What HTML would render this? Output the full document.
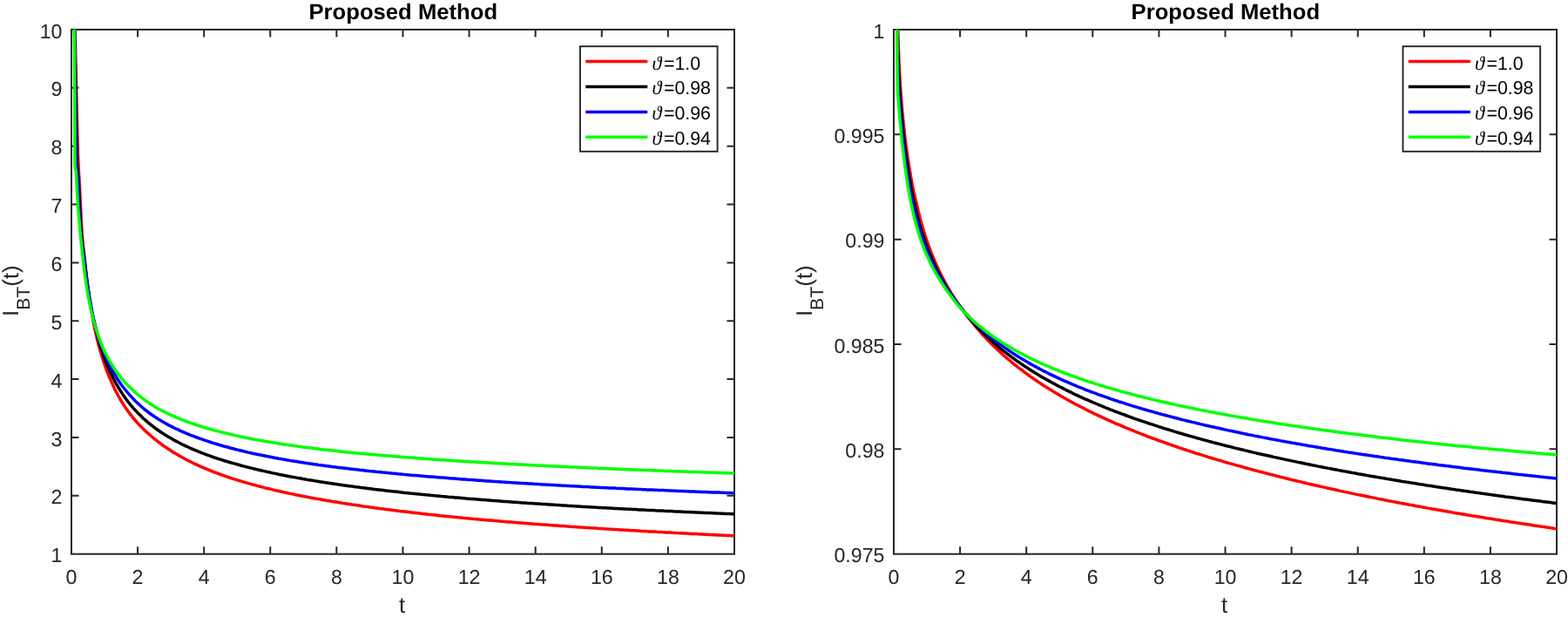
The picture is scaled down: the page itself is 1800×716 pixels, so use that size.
<!DOCTYPE html>
<html lang="en"><head><meta charset="utf-8"><title>Proposed Method</title>
<style>html,body{margin:0;padding:0;background:#fff;overflow:hidden}svg{display:block}</style></head>
<body>
<svg width="1800" height="716" viewBox="0 0 1800 716" font-family="'Liberation Sans',Arial,Helvetica,sans-serif" text-rendering="geometricPrecision">
<rect width="1800" height="716" fill="#fff"/>
<clipPath id="cl"><rect x="81.95" y="33.65" width="761.35" height="602.05"/></clipPath>
<path d="M158.06 635.7v-8.5M158.06 33.95v8.5M234.16 635.7v-8.5M234.16 33.95v8.5M310.26 635.7v-8.5M310.26 33.95v8.5M386.37 635.7v-8.5M386.37 33.95v8.5M462.47 635.7v-8.5M462.47 33.95v8.5M538.58 635.7v-8.5M538.58 33.95v8.5M614.68 635.7v-8.5M614.68 33.95v8.5M690.79 635.7v-8.5M690.79 33.95v8.5M766.89 635.7v-8.5M766.89 33.95v8.5M81.95 568.84h8.5M843 568.84h-8.5M81.95 501.98h8.5M843 501.98h-8.5M81.95 435.12h8.5M843 435.12h-8.5M81.95 368.26h8.5M843 368.26h-8.5M81.95 301.39h8.5M843 301.39h-8.5M81.95 234.53h8.5M843 234.53h-8.5M81.95 167.67h8.5M843 167.67h-8.5M81.95 100.81h8.5M843 100.81h-8.5" stroke="#262626" stroke-width="2.0" fill="none"/>
<rect x="81.95" y="33.95" width="761.05" height="601.75" fill="none" stroke="#262626" stroke-width="2.0"/>
<g clip-path="url(#cl)" fill="none" stroke-width="3.5" stroke-linejoin="round" stroke-linecap="butt">
<path d="M86.0 30.0 L86.1 32.6 L86.1 35.2 L86.2 37.9 L86.2 40.5 L86.3 43.1 L86.3 45.7 L86.4 48.4 L86.4 51.0 L86.5 53.6 L86.5 56.2 L86.6 58.8 L86.7 61.5 L86.7 64.1 L86.8 66.7 L86.8 69.3 L86.9 71.9 L87.0 74.6 L87.0 77.2 L87.1 79.8 L87.1 82.4 L87.2 85.1 L87.2 87.7 L87.3 90.3 L87.4 92.9 L87.4 95.5 L87.5 98.2 L87.5 100.8 L87.6 103.4 L87.7 106.0 L87.7 108.6 L87.8 111.3 L87.9 113.9 L87.9 116.5 L88.0 119.1 L88.0 121.8 L88.1 124.4 L88.2 127.0 L88.2 129.6 L88.3 132.2 L88.4 134.9 L88.4 137.5 L88.5 140.1 L88.5 142.7 L88.6 145.3 L88.7 148.0 L88.7 150.6 L88.8 153.2 L88.9 155.8 L89.0 158.5 L89.0 161.1 L89.1 163.7 L89.2 166.3 L89.3 168.9 L89.3 171.6 L89.4 174.2 L89.5 176.8 L89.6 179.4 L89.7 182.0 L89.8 184.7 L89.9 187.3 L90.0 189.9 L90.1 192.5 L90.3 195.1 L90.4 197.8 L90.6 200.4 L90.8 203.0 L90.9 205.6 L91.1 208.2 L91.2 210.8 L91.4 213.5 L91.5 216.1 L91.6 218.7 L91.8 221.3 L91.9 223.9 L92.0 226.6 L92.2 229.2 L92.3 231.8 L92.4 234.4 L92.5 237.0 L92.6 239.7 L92.8 242.3 L92.9 244.9 L93.0 247.5 L93.1 250.1 L93.3 252.8 L93.4 255.4 L93.5 258.0 L93.7 260.6 L93.9 263.2 L94.0 265.8 L94.2 268.5 L94.4 271.1 L94.6 273.7 L94.8 276.3 L95.1 278.9 L95.3 281.5 L95.6 284.1 L95.9 286.7 L96.2 289.3 L96.5 291.9 L96.8 294.5 L97.1 297.2 L97.4 299.8 L97.6 302.4 L97.9 305.0 L98.2 307.6 L98.5 310.2 L98.8 312.8 L99.0 315.4 L99.3 318.0 L99.7 320.6 L100.0 323.2 L100.3 325.8 L100.6 328.4 L101.0 331.0 L101.3 333.6 L101.7 336.2 L102.1 338.8 L102.4 341.4 L102.8 344.0 L103.2 346.6 L103.6 349.2 L104.0 351.8 L104.5 354.4 L104.9 356.9 L105.4 359.5 L105.8 362.1 L106.3 364.7 L106.8 367.3 L107.3 369.8 L107.8 372.4 L108.3 375.0 L108.9 377.5 L109.4 380.1 L110.0 382.7 L110.6 385.2 L111.2 387.8 L111.8 390.3 L112.5 392.9 L113.1 395.4 L113.8 397.9 L114.5 400.5 L115.2 403.0 L116.0 405.5 L116.7 408.0 L117.5 410.5 L118.3 413.0 L119.1 415.5 L120.0 418.0 L120.8 420.5 L121.7 422.9 L122.6 425.4 L123.6 427.8 L124.5 430.3 L125.5 432.7 L126.6 435.1 L127.6 437.5 L128.7 439.9 L129.8 442.3 L130.9 444.7 L132.0 447.0 L133.2 449.4 L134.4 451.7 L135.7 454.0 L137.0 456.3 L138.3 458.6 L139.6 460.8 L141.0 463.0 L142.4 465.2 L143.8 467.4 L145.3 469.6 L146.9 471.7 L148.4 473.8 L150.0 475.9 L151.6 478.0 L153.3 480.0 L155.0 482.0 L156.7 484.0 L158.5 485.9 L160.2 487.9 L162.1 489.7 L163.9 491.6 L165.8 493.4 L167.7 495.2 L169.6 497.0 L171.6 498.7 L173.6 500.5 L175.6 502.1 L177.6 503.8 L179.7 505.4 L181.7 507.0 L183.8 508.6 L185.9 510.2 L188.1 511.7 L190.2 513.2 L192.4 514.7 L194.6 516.1 L196.8 517.5 L199.0 518.9 L201.3 520.3 L203.5 521.6 L205.8 522.9 L208.1 524.2 L210.4 525.5 L212.7 526.7 L215.0 528.0 L217.3 529.2 L219.7 530.3 L222.0 531.5 L224.4 532.6 L226.8 533.7 L229.2 534.8 L231.6 535.9 L234.0 536.9 L236.4 537.9 L238.8 538.9 L241.2 539.9 L243.7 540.9 L246.1 541.8 L248.6 542.7 L251.0 543.6 L253.5 544.5 L256.0 545.4 L258.4 546.3 L260.9 547.1 L263.4 548.0 L265.9 548.8 L268.4 549.6 L270.9 550.4 L273.4 551.2 L275.9 551.9 L278.4 552.7 L280.9 553.4 L283.5 554.1 L286.0 554.9 L288.5 555.6 L291.0 556.3 L293.6 556.9 L296.1 557.6 L298.6 558.3 L301.2 558.9 L303.7 559.6 L306.3 560.2 L308.8 560.8 L311.4 561.4 L313.9 562.1 L316.5 562.7 L319.0 563.2 L321.6 563.8 L324.1 564.4 L326.7 565.0 L329.3 565.5 L331.8 566.1 L334.4 566.6 L337.0 567.1 L339.5 567.7 L342.1 568.2 L344.7 568.7 L347.2 569.2 L349.8 569.7 L352.4 570.2 L355.0 570.7 L357.5 571.2 L360.1 571.7 L362.7 572.1 L365.3 572.6 L367.9 573.0 L370.5 573.5 L373.0 573.9 L375.6 574.4 L378.2 574.8 L380.8 575.3 L383.4 575.7 L386.0 576.1 L388.6 576.5 L391.1 576.9 L393.7 577.4 L396.3 577.8 L398.9 578.2 L401.5 578.6 L404.1 579.0 L406.7 579.3 L409.3 579.7 L411.9 580.1 L414.5 580.5 L417.1 580.9 L419.7 581.2 L422.3 581.6 L424.9 582.0 L427.5 582.3 L430.1 582.7 L432.7 583.0 L435.3 583.4 L437.9 583.7 L440.5 584.1 L443.1 584.4 L445.7 584.7 L448.3 585.1 L450.9 585.4 L453.5 585.7 L456.1 586.0 L458.7 586.4 L461.3 586.7 L463.9 587.0 L466.5 587.3 L469.1 587.6 L471.7 587.9 L474.3 588.2 L476.9 588.5 L479.5 588.8 L482.1 589.1 L484.7 589.4 L487.3 589.7 L489.9 590.0 L492.5 590.3 L495.1 590.5 L497.7 590.8 L500.4 591.1 L503.0 591.4 L505.6 591.7 L508.2 591.9 L510.8 592.2 L513.4 592.5 L516.0 592.7 L518.6 593.0 L521.2 593.2 L523.8 593.5 L526.4 593.8 L529.0 594.0 L531.7 594.3 L534.3 594.5 L536.9 594.7 L539.5 595.0 L542.1 595.2 L544.7 595.5 L547.3 595.7 L549.9 596.0 L552.5 596.2 L555.2 596.4 L557.8 596.7 L560.4 596.9 L563.0 597.1 L565.6 597.3 L568.2 597.6 L570.8 597.8 L573.4 598.0 L576.1 598.2 L578.7 598.5 L581.3 598.7 L583.9 598.9 L586.5 599.1 L589.1 599.3 L591.7 599.5 L594.4 599.7 L597.0 599.9 L599.6 600.1 L602.2 600.4 L604.8 600.6 L607.4 600.8 L610.0 601.0 L612.7 601.2 L615.3 601.4 L617.9 601.6 L620.5 601.8 L623.1 601.9 L625.7 602.1 L628.3 602.3 L631.0 602.5 L633.6 602.7 L636.2 602.9 L638.8 603.1 L641.4 603.3 L644.0 603.5 L646.7 603.6 L649.3 603.8 L651.9 604.0 L654.5 604.2 L657.1 604.4 L659.7 604.5 L662.3 604.7 L665.0 604.9 L667.6 605.1 L670.2 605.2 L672.8 605.4 L675.4 605.6 L678.0 605.8 L680.7 605.9 L683.3 606.1 L685.9 606.3 L688.5 606.4 L691.1 606.6 L693.7 606.8 L696.4 606.9 L699.0 607.1 L701.6 607.2 L704.2 607.4 L706.8 607.6 L709.5 607.7 L712.1 607.9 L714.7 608.0 L717.3 608.2 L719.9 608.3 L722.5 608.5 L725.2 608.7 L727.8 608.8 L730.4 609.0 L733.0 609.1 L735.6 609.3 L738.2 609.4 L740.9 609.6 L743.5 609.7 L746.1 609.9 L748.7 610.0 L751.3 610.1 L754.0 610.3 L756.6 610.4 L759.2 610.6 L761.8 610.7 L764.4 610.9 L767.0 611.0 L769.7 611.1 L772.3 611.3 L774.9 611.4 L777.5 611.6 L780.1 611.7 L782.8 611.8 L785.4 612.0 L788.0 612.1 L790.6 612.2 L793.2 612.4 L795.9 612.5 L798.5 612.6 L801.1 612.8 L803.7 612.9 L806.3 613.0 L808.9 613.2 L811.6 613.3 L814.2 613.4 L816.8 613.5 L819.4 613.7 L822.0 613.8 L824.7 613.9 L827.3 614.0 L829.9 614.2 L832.5 614.3 L835.1 614.4 L837.8 614.5 L840.4 614.7 L843.0 614.8" stroke="#ff0000"/>
<path d="M85.7 30.0 L85.7 32.6 L85.8 35.2 L85.8 37.8 L85.9 40.4 L85.9 42.9 L86.0 45.5 L86.0 48.1 L86.0 50.7 L86.1 53.3 L86.1 55.9 L86.2 58.5 L86.2 61.1 L86.2 63.7 L86.3 66.2 L86.3 68.8 L86.4 71.4 L86.4 74.0 L86.5 76.6 L86.5 79.2 L86.6 81.8 L86.6 84.4 L86.6 87.0 L86.7 89.5 L86.7 92.1 L86.8 94.7 L86.8 97.3 L86.9 99.9 L86.9 102.5 L86.9 105.1 L87.0 107.7 L87.0 110.3 L87.1 112.8 L87.1 115.4 L87.2 118.0 L87.2 120.6 L87.3 123.2 L87.3 125.8 L87.3 128.4 L87.4 131.0 L87.4 133.6 L87.5 136.1 L87.5 138.7 L87.6 141.3 L87.6 143.9 L87.6 146.5 L87.7 149.1 L87.7 151.7 L87.8 154.3 L87.8 156.9 L87.9 159.4 L87.9 162.0 L88.0 164.6 L88.0 167.2 L88.1 169.8 L88.1 172.4 L88.2 175.0 L88.2 177.6 L88.3 180.2 L88.4 182.8 L88.4 185.3 L88.5 187.9 L88.6 190.5 L88.8 193.1 L89.1 195.7 L89.3 198.2 L89.5 200.8 L89.8 203.4 L90.0 206.0 L90.2 208.6 L90.4 211.1 L90.5 213.7 L90.6 216.3 L90.7 218.9 L90.8 221.5 L90.9 224.1 L91.0 226.7 L91.1 229.3 L91.3 231.8 L91.4 234.4 L91.5 237.0 L91.7 239.6 L91.8 242.2 L91.9 244.8 L92.1 247.4 L92.2 250.0 L92.4 252.5 L92.5 255.1 L92.7 257.7 L92.9 260.3 L93.1 262.9 L93.2 265.5 L93.4 268.0 L93.7 270.6 L93.9 273.2 L94.2 275.8 L94.5 278.3 L94.8 280.9 L95.1 283.5 L95.5 286.0 L95.8 288.6 L96.2 291.2 L96.5 293.7 L96.9 296.3 L97.2 298.9 L97.5 301.4 L97.8 304.0 L98.0 306.6 L98.3 309.2 L98.6 311.7 L98.9 314.3 L99.3 316.9 L99.6 319.4 L99.9 322.0 L100.3 324.6 L100.6 327.1 L101.0 329.7 L101.3 332.3 L101.7 334.8 L102.1 337.4 L102.5 340.0 L102.9 342.5 L103.3 345.1 L103.8 347.6 L104.2 350.2 L104.7 352.7 L105.1 355.3 L105.6 357.8 L106.1 360.3 L106.6 362.9 L107.1 365.4 L107.7 368.0 L108.2 370.5 L108.8 373.0 L109.4 375.5 L110.0 378.1 L110.6 380.6 L111.3 383.1 L111.9 385.6 L112.6 388.1 L113.3 390.6 L114.0 393.1 L114.7 395.5 L115.5 398.0 L116.3 400.5 L117.1 402.9 L117.9 405.4 L118.8 407.8 L119.7 410.3 L120.6 412.7 L121.5 415.1 L122.5 417.5 L123.5 419.9 L124.5 422.3 L125.6 424.6 L126.6 427.0 L127.7 429.3 L128.9 431.7 L130.0 434.0 L131.2 436.3 L132.4 438.6 L133.7 440.8 L135.0 443.1 L136.3 445.3 L137.7 447.5 L139.1 449.7 L140.5 451.9 L141.9 454.0 L143.4 456.1 L145.0 458.2 L146.5 460.3 L148.1 462.3 L149.7 464.3 L151.4 466.3 L153.1 468.3 L154.8 470.2 L156.6 472.1 L158.4 474.0 L160.2 475.8 L162.0 477.6 L163.9 479.4 L165.8 481.2 L167.8 482.9 L169.7 484.6 L171.7 486.2 L173.7 487.9 L175.8 489.4 L177.8 491.0 L179.9 492.5 L182.0 494.0 L184.2 495.5 L186.3 496.9 L188.5 498.3 L190.7 499.7 L192.9 501.0 L195.2 502.3 L197.4 503.6 L199.7 504.9 L201.9 506.1 L204.2 507.3 L206.5 508.5 L208.9 509.7 L211.2 510.8 L213.5 511.9 L215.9 513.0 L218.2 514.1 L220.6 515.1 L223.0 516.1 L225.4 517.1 L227.8 518.1 L230.2 519.1 L232.6 520.0 L235.0 521.0 L237.4 521.9 L239.9 522.7 L242.3 523.6 L244.7 524.5 L247.2 525.3 L249.6 526.1 L252.1 526.9 L254.6 527.7 L257.0 528.5 L259.5 529.2 L262.0 530.0 L264.5 530.7 L267.0 531.4 L269.5 532.1 L272.0 532.8 L274.5 533.5 L277.0 534.2 L279.5 534.9 L282.0 535.5 L284.5 536.1 L287.0 536.8 L289.5 537.4 L292.0 538.0 L294.5 538.6 L297.1 539.2 L299.6 539.8 L302.1 540.4 L304.6 540.9 L307.2 541.5 L309.7 542.0 L312.2 542.6 L314.7 543.1 L317.3 543.6 L319.8 544.2 L322.4 544.7 L324.9 545.2 L327.4 545.7 L330.0 546.2 L332.5 546.7 L335.1 547.2 L337.6 547.6 L340.2 548.1 L342.7 548.6 L345.3 549.0 L347.8 549.5 L350.4 549.9 L352.9 550.4 L355.5 550.8 L358.0 551.2 L360.6 551.6 L363.1 552.1 L365.7 552.5 L368.2 552.9 L370.8 553.3 L373.4 553.7 L375.9 554.1 L378.5 554.5 L381.0 554.8 L383.6 555.2 L386.2 555.6 L388.7 556.0 L391.3 556.3 L393.8 556.7 L396.4 557.0 L399.0 557.4 L401.5 557.8 L404.1 558.1 L406.7 558.4 L409.2 558.8 L411.8 559.1 L414.4 559.5 L416.9 559.8 L419.5 560.1 L422.1 560.4 L424.7 560.7 L427.2 561.1 L429.8 561.4 L432.4 561.7 L434.9 562.0 L437.5 562.3 L440.1 562.6 L442.6 562.9 L445.2 563.2 L447.8 563.5 L450.4 563.8 L452.9 564.0 L455.5 564.3 L458.1 564.6 L460.7 564.9 L463.2 565.2 L465.8 565.4 L468.4 565.7 L471.0 566.0 L473.5 566.2 L476.1 566.5 L478.7 566.8 L481.3 567.0 L483.8 567.3 L486.4 567.5 L489.0 567.8 L491.6 568.0 L494.2 568.3 L496.7 568.5 L499.3 568.8 L501.9 569.0 L504.5 569.2 L507.0 569.5 L509.6 569.7 L512.2 569.9 L514.8 570.2 L517.4 570.4 L519.9 570.6 L522.5 570.9 L525.1 571.1 L527.7 571.3 L530.3 571.5 L532.8 571.7 L535.4 572.0 L538.0 572.2 L540.6 572.4 L543.2 572.6 L545.7 572.8 L548.3 573.0 L550.9 573.2 L553.5 573.4 L556.1 573.6 L558.6 573.8 L561.2 574.0 L563.8 574.2 L566.4 574.4 L569.0 574.6 L571.6 574.8 L574.1 575.0 L576.7 575.2 L579.3 575.4 L581.9 575.6 L584.5 575.8 L587.0 576.0 L589.6 576.2 L592.2 576.3 L594.8 576.5 L597.4 576.7 L600.0 576.9 L602.5 577.1 L605.1 577.3 L607.7 577.4 L610.3 577.6 L612.9 577.8 L615.5 578.0 L618.0 578.1 L620.6 578.3 L623.2 578.5 L625.8 578.6 L628.4 578.8 L631.0 579.0 L633.5 579.1 L636.1 579.3 L638.7 579.5 L641.3 579.6 L643.9 579.8 L646.5 580.0 L649.1 580.1 L651.6 580.3 L654.2 580.4 L656.8 580.6 L659.4 580.7 L662.0 580.9 L664.6 581.0 L667.1 581.2 L669.7 581.4 L672.3 581.5 L674.9 581.7 L677.5 581.8 L680.1 581.9 L682.7 582.1 L685.2 582.2 L687.8 582.4 L690.4 582.5 L693.0 582.7 L695.6 582.8 L698.2 583.0 L700.7 583.1 L703.3 583.2 L705.9 583.4 L708.5 583.5 L711.1 583.7 L713.7 583.8 L716.3 583.9 L718.8 584.1 L721.4 584.2 L724.0 584.3 L726.6 584.5 L729.2 584.6 L731.8 584.7 L734.4 584.9 L736.9 585.0 L739.5 585.1 L742.1 585.3 L744.7 585.4 L747.3 585.5 L749.9 585.6 L752.5 585.8 L755.1 585.9 L757.6 586.0 L760.2 586.1 L762.8 586.3 L765.4 586.4 L768.0 586.5 L770.6 586.6 L773.2 586.8 L775.7 586.9 L778.3 587.0 L780.9 587.1 L783.5 587.2 L786.1 587.4 L788.7 587.5 L791.3 587.6 L793.8 587.7 L796.4 587.8 L799.0 587.9 L801.6 588.0 L804.2 588.2 L806.8 588.3 L809.4 588.4 L812.0 588.5 L814.5 588.6 L817.1 588.7 L819.7 588.8 L822.3 588.9 L824.9 589.1 L827.5 589.2 L830.1 589.3 L832.7 589.4 L835.2 589.5 L837.8 589.6 L840.4 589.7 L843.0 589.8" stroke="#000000"/>
<path d="M85.5 30.0 L85.5 32.6 L85.6 35.1 L85.6 37.7 L85.6 40.2 L85.7 42.8 L85.7 45.4 L85.7 47.9 L85.7 50.5 L85.8 53.0 L85.8 55.6 L85.8 58.2 L85.9 60.7 L85.9 63.3 L85.9 65.8 L86.0 68.4 L86.0 70.9 L86.0 73.5 L86.1 76.1 L86.1 78.6 L86.1 81.2 L86.2 83.7 L86.2 86.3 L86.2 88.9 L86.2 91.4 L86.3 94.0 L86.3 96.5 L86.3 99.1 L86.4 101.7 L86.4 104.2 L86.4 106.8 L86.5 109.3 L86.5 111.9 L86.5 114.5 L86.6 117.0 L86.6 119.6 L86.6 122.1 L86.7 124.7 L86.7 127.3 L86.7 129.8 L86.7 132.4 L86.8 134.9 L86.8 137.5 L86.8 140.1 L86.9 142.6 L86.9 145.2 L86.9 147.7 L87.0 150.3 L87.0 152.8 L87.0 155.4 L87.1 158.0 L87.1 160.5 L87.1 163.1 L87.2 165.6 L87.2 168.2 L87.2 170.8 L87.3 173.3 L87.3 175.9 L87.3 178.5 L87.4 181.0 L87.4 183.6 L87.5 186.1 L87.6 188.7 L87.7 191.2 L88.0 193.8 L88.3 196.3 L88.6 198.9 L88.9 201.4 L89.1 204.0 L89.4 206.5 L89.5 209.1 L89.7 211.6 L89.8 214.2 L89.9 216.7 L90.0 219.3 L90.1 221.8 L90.2 224.4 L90.3 227.0 L90.5 229.5 L90.6 232.1 L90.7 234.6 L90.8 237.2 L91.0 239.7 L91.1 242.3 L91.3 244.9 L91.4 247.4 L91.6 250.0 L91.7 252.5 L91.9 255.1 L92.1 257.6 L92.2 260.2 L92.4 262.7 L92.6 265.3 L92.8 267.8 L93.0 270.4 L93.3 272.9 L93.5 275.5 L93.8 278.0 L94.1 280.5 L94.5 283.1 L94.8 285.6 L95.2 288.2 L95.5 290.7 L95.9 293.2 L96.2 295.8 L96.6 298.3 L96.9 300.9 L97.2 303.4 L97.5 305.9 L97.8 308.5 L98.1 311.0 L98.4 313.6 L98.7 316.1 L99.0 318.6 L99.4 321.2 L99.7 323.7 L100.1 326.2 L100.5 328.8 L100.9 331.3 L101.2 333.8 L101.7 336.4 L102.1 338.9 L102.5 341.4 L102.9 343.9 L103.4 346.4 L103.9 349.0 L104.3 351.5 L104.8 354.0 L105.4 356.5 L105.9 359.0 L106.4 361.5 L107.0 364.0 L107.6 366.5 L108.2 369.0 L108.8 371.5 L109.4 373.9 L110.1 376.4 L110.7 378.9 L111.4 381.4 L112.1 383.8 L112.9 386.3 L113.6 388.7 L114.4 391.1 L115.2 393.6 L116.1 396.0 L116.9 398.4 L117.8 400.8 L118.8 403.2 L119.7 405.6 L120.7 407.9 L121.7 410.3 L122.7 412.6 L123.8 414.9 L124.9 417.2 L126.1 419.5 L127.2 421.8 L128.4 424.1 L129.7 426.3 L131.0 428.5 L132.3 430.7 L133.6 432.9 L135.0 435.1 L136.4 437.2 L137.8 439.3 L139.3 441.4 L140.8 443.5 L142.4 445.5 L144.0 447.5 L145.6 449.5 L147.3 451.4 L149.0 453.3 L150.7 455.2 L152.4 457.1 L154.2 458.9 L156.0 460.7 L157.9 462.5 L159.8 464.3 L161.7 466.0 L163.6 467.7 L165.6 469.3 L167.5 470.9 L169.6 472.5 L171.6 474.0 L173.7 475.5 L175.8 477.0 L177.9 478.4 L180.0 479.8 L182.2 481.2 L184.4 482.5 L186.6 483.8 L188.8 485.1 L191.0 486.4 L193.3 487.6 L195.6 488.8 L197.8 489.9 L200.1 491.0 L202.4 492.2 L204.8 493.2 L207.1 494.3 L209.4 495.3 L211.8 496.3 L214.1 497.3 L216.5 498.3 L218.9 499.3 L221.3 500.2 L223.7 501.1 L226.1 502.0 L228.5 502.9 L230.9 503.7 L233.3 504.6 L235.7 505.4 L238.1 506.2 L240.6 507.0 L243.0 507.8 L245.5 508.6 L247.9 509.3 L250.4 510.0 L252.8 510.8 L255.3 511.5 L257.7 512.2 L260.2 512.8 L262.7 513.5 L265.1 514.2 L267.6 514.8 L270.1 515.5 L272.6 516.1 L275.1 516.7 L277.6 517.3 L280.0 517.9 L282.5 518.5 L285.0 519.1 L287.5 519.6 L290.0 520.2 L292.5 520.7 L295.0 521.3 L297.5 521.8 L300.0 522.3 L302.5 522.8 L305.1 523.3 L307.6 523.8 L310.1 524.3 L312.6 524.8 L315.1 525.3 L317.6 525.7 L320.1 526.2 L322.7 526.6 L325.2 527.1 L327.7 527.5 L330.2 527.9 L332.8 528.4 L335.3 528.8 L337.8 529.2 L340.3 529.6 L342.9 530.0 L345.4 530.4 L347.9 530.8 L350.4 531.2 L353.0 531.5 L355.5 531.9 L358.0 532.3 L360.6 532.7 L363.1 533.0 L365.6 533.4 L368.2 533.7 L370.7 534.1 L373.3 534.4 L375.8 534.7 L378.3 535.1 L380.9 535.4 L383.4 535.7 L385.9 536.1 L388.5 536.4 L391.0 536.7 L393.6 537.0 L396.1 537.3 L398.7 537.6 L401.2 537.9 L403.7 538.2 L406.3 538.5 L408.8 538.8 L411.4 539.1 L413.9 539.4 L416.5 539.6 L419.0 539.9 L421.5 540.2 L424.1 540.5 L426.6 540.7 L429.2 541.0 L431.7 541.3 L434.3 541.5 L436.8 541.8 L439.4 542.1 L441.9 542.3 L444.5 542.6 L447.0 542.8 L449.5 543.1 L452.1 543.3 L454.6 543.5 L457.2 543.8 L459.7 544.0 L462.3 544.3 L464.8 544.5 L467.4 544.7 L469.9 545.0 L472.5 545.2 L475.0 545.4 L477.6 545.6 L480.1 545.8 L482.7 546.1 L485.2 546.3 L487.8 546.5 L490.3 546.7 L492.9 546.9 L495.4 547.1 L498.0 547.3 L500.5 547.5 L503.1 547.7 L505.6 547.9 L508.2 548.1 L510.7 548.3 L513.3 548.5 L515.9 548.7 L518.4 548.9 L521.0 549.1 L523.5 549.3 L526.1 549.5 L528.6 549.7 L531.2 549.9 L533.7 550.1 L536.3 550.3 L538.8 550.4 L541.4 550.6 L543.9 550.8 L546.5 551.0 L549.0 551.2 L551.6 551.3 L554.1 551.5 L556.7 551.7 L559.2 551.9 L561.8 552.0 L564.4 552.2 L566.9 552.4 L569.5 552.6 L572.0 552.7 L574.6 552.9 L577.1 553.1 L579.7 553.2 L582.2 553.4 L584.8 553.6 L587.3 553.7 L589.9 553.9 L592.5 554.0 L595.0 554.2 L597.6 554.4 L600.1 554.5 L602.7 554.7 L605.2 554.8 L607.8 555.0 L610.3 555.1 L612.9 555.3 L615.4 555.4 L618.0 555.6 L620.6 555.7 L623.1 555.9 L625.7 556.0 L628.2 556.2 L630.8 556.3 L633.3 556.5 L635.9 556.6 L638.4 556.7 L641.0 556.9 L643.6 557.0 L646.1 557.2 L648.7 557.3 L651.2 557.4 L653.8 557.6 L656.3 557.7 L658.9 557.8 L661.4 558.0 L664.0 558.1 L666.6 558.2 L669.1 558.4 L671.7 558.5 L674.2 558.6 L676.8 558.8 L679.3 558.9 L681.9 559.0 L684.5 559.2 L687.0 559.3 L689.6 559.4 L692.1 559.5 L694.7 559.7 L697.2 559.8 L699.8 559.9 L702.3 560.0 L704.9 560.1 L707.5 560.3 L710.0 560.4 L712.6 560.5 L715.1 560.6 L717.7 560.7 L720.2 560.9 L722.8 561.0 L725.4 561.1 L727.9 561.2 L730.5 561.3 L733.0 561.4 L735.6 561.5 L738.1 561.7 L740.7 561.8 L743.3 561.9 L745.8 562.0 L748.4 562.1 L750.9 562.2 L753.5 562.3 L756.0 562.4 L758.6 562.5 L761.2 562.6 L763.7 562.7 L766.3 562.8 L768.8 563.0 L771.4 563.1 L773.9 563.2 L776.5 563.3 L779.1 563.4 L781.6 563.5 L784.2 563.6 L786.7 563.7 L789.3 563.8 L791.8 563.9 L794.4 564.0 L797.0 564.1 L799.5 564.2 L802.1 564.3 L804.6 564.4 L807.2 564.5 L809.7 564.6 L812.3 564.7 L814.9 564.8 L817.4 564.9 L820.0 565.0 L822.5 565.0 L825.1 565.1 L827.7 565.2 L830.2 565.3 L832.8 565.4 L835.3 565.5 L837.9 565.6 L840.4 565.7 L843.0 565.8" stroke="#0000ff"/>
<path d="M85.4 30.0 L85.4 32.5 L85.4 35.1 L85.4 37.6 L85.5 40.1 L85.5 42.7 L85.5 45.2 L85.5 47.7 L85.5 50.3 L85.5 52.8 L85.5 55.3 L85.5 57.9 L85.6 60.4 L85.6 62.9 L85.6 65.5 L85.6 68.0 L85.6 70.5 L85.6 73.1 L85.6 75.6 L85.6 78.1 L85.7 80.7 L85.7 83.2 L85.7 85.7 L85.7 88.3 L85.7 90.8 L85.7 93.3 L85.7 95.9 L85.7 98.4 L85.7 100.9 L85.7 103.5 L85.8 106.0 L85.8 108.5 L85.8 111.1 L85.8 113.6 L85.8 116.1 L85.8 118.7 L85.8 121.2 L85.8 123.7 L85.8 126.3 L85.8 128.8 L85.8 131.3 L85.8 133.9 L85.8 136.4 L85.8 138.9 L85.9 141.5 L85.9 144.0 L85.9 146.5 L85.9 149.1 L85.9 151.6 L85.9 154.1 L85.9 156.7 L85.9 159.2 L85.9 161.8 L85.9 164.3 L85.9 166.8 L85.9 169.4 L85.9 171.9 L85.9 174.5 L85.9 177.0 L85.9 179.5 L86.0 182.1 L86.0 184.6 L86.0 187.1 L86.0 189.6 L86.3 192.1 L86.9 194.6 L87.3 197.1 L87.5 199.6 L87.6 202.1 L87.8 204.7 L87.9 207.2 L88.0 209.8 L88.1 212.3 L88.2 214.8 L88.4 217.3 L88.5 219.9 L88.6 222.4 L88.8 224.9 L88.9 227.5 L89.1 230.0 L89.3 232.5 L89.5 235.0 L89.6 237.6 L89.8 240.1 L90.0 242.6 L90.2 245.2 L90.4 247.7 L90.6 250.2 L90.9 252.7 L91.1 255.3 L91.3 257.8 L91.5 260.3 L91.7 262.8 L92.0 265.3 L92.2 267.9 L92.4 270.4 L92.7 272.9 L92.9 275.4 L93.2 278.0 L93.4 280.5 L93.7 283.0 L94.0 285.5 L94.2 288.0 L94.5 290.6 L94.8 293.1 L95.1 295.6 L95.3 298.1 L95.6 300.6 L95.9 303.1 L96.2 305.7 L96.5 308.2 L96.8 310.7 L97.1 313.2 L97.5 315.7 L97.8 318.2 L98.2 320.7 L98.5 323.2 L98.9 325.8 L99.3 328.3 L99.7 330.8 L100.1 333.3 L100.5 335.8 L101.0 338.3 L101.4 340.7 L101.9 343.2 L102.4 345.7 L102.9 348.2 L103.4 350.7 L103.9 353.2 L104.4 355.6 L105.0 358.1 L105.6 360.6 L106.2 363.0 L106.8 365.5 L107.5 367.9 L108.1 370.4 L108.8 372.8 L109.5 375.3 L110.3 377.7 L111.1 380.1 L111.8 382.5 L112.7 384.9 L113.5 387.3 L114.4 389.7 L115.3 392.0 L116.2 394.4 L117.2 396.7 L118.2 399.0 L119.3 401.4 L120.3 403.7 L121.4 405.9 L122.6 408.2 L123.8 410.4 L125.0 412.7 L126.2 414.9 L127.5 417.0 L128.9 419.2 L130.2 421.3 L131.6 423.4 L133.0 425.5 L134.5 427.6 L136.0 429.6 L137.6 431.6 L139.2 433.6 L140.8 435.6 L142.4 437.5 L144.1 439.4 L145.9 441.2 L147.6 443.0 L149.4 444.8 L151.2 446.6 L153.1 448.3 L155.0 450.0 L156.9 451.7 L158.8 453.3 L160.8 454.9 L162.8 456.5 L164.8 458.0 L166.8 459.5 L168.9 461.0 L171.0 462.4 L173.1 463.8 L175.3 465.1 L177.4 466.4 L179.6 467.7 L181.8 469.0 L184.0 470.2 L186.3 471.4 L188.5 472.5 L190.8 473.7 L193.1 474.8 L195.4 475.8 L197.7 476.9 L200.0 477.9 L202.3 478.9 L204.7 479.9 L207.0 480.9 L209.4 481.8 L211.7 482.7 L214.1 483.6 L216.5 484.5 L218.9 485.3 L221.3 486.2 L223.7 487.0 L226.1 487.8 L228.5 488.5 L230.9 489.3 L233.3 490.1 L235.7 490.8 L238.2 491.5 L240.6 492.2 L243.0 492.9 L245.5 493.6 L247.9 494.2 L250.4 494.9 L252.8 495.5 L255.3 496.1 L257.7 496.7 L260.2 497.3 L262.7 497.9 L265.1 498.5 L267.6 499.0 L270.1 499.6 L272.6 500.1 L275.0 500.7 L277.5 501.2 L280.0 501.7 L282.5 502.2 L285.0 502.7 L287.5 503.2 L289.9 503.7 L292.4 504.2 L294.9 504.6 L297.4 505.1 L299.9 505.5 L302.4 506.0 L304.9 506.4 L307.4 506.8 L309.9 507.3 L312.4 507.7 L314.9 508.1 L317.4 508.5 L319.9 508.9 L322.4 509.3 L324.9 509.7 L327.4 510.0 L329.9 510.4 L332.4 510.8 L334.9 511.1 L337.4 511.5 L339.9 511.8 L342.5 512.2 L345.0 512.5 L347.5 512.9 L350.0 513.2 L352.5 513.5 L355.0 513.8 L357.5 514.1 L360.0 514.5 L362.6 514.8 L365.1 515.1 L367.6 515.4 L370.1 515.7 L372.6 515.9 L375.1 516.2 L377.7 516.5 L380.2 516.8 L382.7 517.1 L385.2 517.3 L387.7 517.6 L390.3 517.9 L392.8 518.2 L395.3 518.4 L397.8 518.7 L400.3 518.9 L402.9 519.2 L405.4 519.4 L407.9 519.7 L410.4 519.9 L412.9 520.2 L415.5 520.4 L418.0 520.6 L420.5 520.9 L423.0 521.1 L425.6 521.3 L428.1 521.6 L430.6 521.8 L433.1 522.0 L435.7 522.2 L438.2 522.5 L440.7 522.7 L443.2 522.9 L445.8 523.1 L448.3 523.3 L450.8 523.5 L453.3 523.7 L455.9 523.9 L458.4 524.1 L460.9 524.4 L463.4 524.5 L466.0 524.7 L468.5 524.9 L471.0 525.1 L473.5 525.3 L476.1 525.5 L478.6 525.7 L481.1 525.9 L483.6 526.1 L486.2 526.3 L488.7 526.4 L491.2 526.6 L493.7 526.8 L496.3 527.0 L498.8 527.2 L501.3 527.3 L503.9 527.5 L506.4 527.7 L508.9 527.8 L511.4 528.0 L514.0 528.2 L516.5 528.3 L519.0 528.5 L521.6 528.7 L524.1 528.8 L526.6 529.0 L529.1 529.2 L531.7 529.3 L534.2 529.5 L536.7 529.6 L539.3 529.8 L541.8 529.9 L544.3 530.1 L546.8 530.2 L549.4 530.4 L551.9 530.5 L554.4 530.7 L557.0 530.8 L559.5 531.0 L562.0 531.1 L564.6 531.3 L567.1 531.4 L569.6 531.5 L572.1 531.7 L574.7 531.8 L577.2 532.0 L579.7 532.1 L582.3 532.2 L584.8 532.4 L587.3 532.5 L589.9 532.6 L592.4 532.8 L594.9 532.9 L597.4 533.0 L600.0 533.2 L602.5 533.3 L605.0 533.4 L607.6 533.5 L610.1 533.7 L612.6 533.8 L615.2 533.9 L617.7 534.0 L620.2 534.2 L622.7 534.3 L625.3 534.4 L627.8 534.5 L630.3 534.7 L632.9 534.8 L635.4 534.9 L637.9 535.0 L640.5 535.2 L643.0 535.3 L645.5 535.4 L648.1 535.5 L650.6 535.6 L653.1 535.8 L655.6 535.9 L658.2 536.0 L660.7 536.1 L663.2 536.2 L665.8 536.3 L668.3 536.5 L670.8 536.6 L673.4 536.7 L675.9 536.8 L678.4 536.9 L681.0 537.0 L683.5 537.1 L686.0 537.3 L688.6 537.4 L691.1 537.5 L693.6 537.6 L696.1 537.7 L698.7 537.8 L701.2 537.9 L703.7 538.0 L706.3 538.1 L708.8 538.2 L711.3 538.3 L713.9 538.4 L716.4 538.5 L718.9 538.6 L721.5 538.7 L724.0 538.8 L726.5 538.9 L729.1 539.0 L731.6 539.1 L734.1 539.2 L736.7 539.3 L739.2 539.4 L741.7 539.5 L744.2 539.6 L746.8 539.7 L749.3 539.8 L751.8 539.9 L754.4 540.0 L756.9 540.1 L759.4 540.2 L762.0 540.3 L764.5 540.4 L767.0 540.5 L769.6 540.6 L772.1 540.7 L774.6 540.8 L777.2 540.8 L779.7 540.9 L782.2 541.0 L784.8 541.1 L787.3 541.2 L789.8 541.3 L792.4 541.4 L794.9 541.5 L797.4 541.6 L800.0 541.6 L802.5 541.7 L805.0 541.8 L807.5 541.9 L810.1 542.0 L812.6 542.1 L815.1 542.2 L817.7 542.2 L820.2 542.3 L822.7 542.4 L825.3 542.5 L827.8 542.6 L830.3 542.7 L832.9 542.7 L835.4 542.8 L837.9 542.9 L840.5 543.0 L843.0 543.1" stroke="#00ff00"/>
</g>
<g font-size="23.2" fill="#262626" text-anchor="middle">
<text x="81.95" y="670.1">0</text>
<text x="158.06" y="670.1">2</text>
<text x="234.16" y="670.1">4</text>
<text x="310.26" y="670.1">6</text>
<text x="386.37" y="670.1">8</text>
<text x="462.47" y="670.1">10</text>
<text x="538.58" y="670.1">12</text>
<text x="614.68" y="670.1">14</text>
<text x="690.79" y="670.1">16</text>
<text x="766.89" y="670.1">18</text>
<text x="843" y="670.1">20</text>
</g>
<g font-size="23.2" fill="#262626" text-anchor="end">
<text x="71.45" y="645.3">1</text>
<text x="71.45" y="578.44">2</text>
<text x="71.45" y="511.58">3</text>
<text x="71.45" y="444.72">4</text>
<text x="71.45" y="377.86">5</text>
<text x="71.45" y="310.99">6</text>
<text x="71.45" y="244.13">7</text>
<text x="71.45" y="177.27">8</text>
<text x="71.45" y="110.41">9</text>
<text x="71.45" y="43.55">10</text>
</g>
<text x="461.48" y="702.9" font-size="25.8" fill="#262626" text-anchor="middle">t</text>
<text transform="translate(462.78 21.75) scale(1.022 1)" font-size="25.1" font-weight="bold" fill="#000" text-anchor="middle">Proposed Method</text>
<text transform="translate(21.1 333.73) rotate(-90)" font-size="25.8" fill="#262626" text-anchor="middle">I<tspan font-size="21.2" dy="12.4">BT</tspan><tspan dy="-12.4">(t)</tspan></text>
<rect x="666" y="53.2" width="157.6" height="120.6" fill="#fff" stroke="#262626" stroke-width="1.9"/>
<path d="M672.3 70.6h71" stroke="#ff0000" stroke-width="3.5" fill="none"/>
<text y="79.5" font-size="21.4" fill="#000"><tspan x="748.6" font-size="22.4" font-family="'Liberation Serif','DejaVu Serif',serif" font-style="italic">ϑ</tspan><tspan x="761.9">=1.0</tspan></text>
<path d="M672.3 99.5h71" stroke="#000000" stroke-width="3.5" fill="none"/>
<text y="108.4" font-size="21.4" fill="#000"><tspan x="748.6" font-size="22.4" font-family="'Liberation Serif','DejaVu Serif',serif" font-style="italic">ϑ</tspan><tspan x="761.9">=0.98</tspan></text>
<path d="M672.3 128.4h71" stroke="#0000ff" stroke-width="3.5" fill="none"/>
<text y="137.3" font-size="21.4" fill="#000"><tspan x="748.6" font-size="22.4" font-family="'Liberation Serif','DejaVu Serif',serif" font-style="italic">ϑ</tspan><tspan x="761.9">=0.96</tspan></text>
<path d="M672.3 157.3h71" stroke="#00ff00" stroke-width="3.5" fill="none"/>
<text y="166.2" font-size="21.4" fill="#000"><tspan x="748.6" font-size="22.4" font-family="'Liberation Serif','DejaVu Serif',serif" font-style="italic">ϑ</tspan><tspan x="761.9">=0.94</tspan></text>
<clipPath id="cr"><rect x="1026" y="33.7" width="761.35" height="602"/></clipPath>
<path d="M1102.11 635.7v-8.5M1102.11 34v8.5M1178.21 635.7v-8.5M1178.21 34v8.5M1254.32 635.7v-8.5M1254.32 34v8.5M1330.42 635.7v-8.5M1330.42 34v8.5M1406.53 635.7v-8.5M1406.53 34v8.5M1482.63 635.7v-8.5M1482.63 34v8.5M1558.73 635.7v-8.5M1558.73 34v8.5M1634.84 635.7v-8.5M1634.84 34v8.5M1710.94 635.7v-8.5M1710.94 34v8.5M1026 515.36h8.5M1787.05 515.36h-8.5M1026 395.02h8.5M1787.05 395.02h-8.5M1026 274.68h8.5M1787.05 274.68h-8.5M1026 154.34h8.5M1787.05 154.34h-8.5" stroke="#262626" stroke-width="2.0" fill="none"/>
<rect x="1026" y="34" width="761.05" height="601.7" fill="none" stroke="#262626" stroke-width="2.0"/>
<g clip-path="url(#cr)" fill="none" stroke-width="3.5" stroke-linejoin="round" stroke-linecap="butt">
<path d="M1030.6 30.0 L1030.6 32.4 L1030.7 34.8 L1030.8 37.2 L1030.8 39.6 L1030.9 42.1 L1031.0 44.5 L1031.0 46.9 L1031.1 49.3 L1031.2 51.7 L1031.3 54.1 L1031.4 56.5 L1031.5 58.9 L1031.6 61.3 L1031.7 63.7 L1031.8 66.2 L1031.9 68.6 L1032.0 71.0 L1032.1 73.4 L1032.3 75.8 L1032.4 78.2 L1032.5 80.6 L1032.6 83.0 L1032.8 85.4 L1032.9 87.8 L1033.0 90.2 L1033.1 92.6 L1033.3 95.0 L1033.4 97.4 L1033.6 99.8 L1033.8 102.2 L1033.9 104.7 L1034.1 107.1 L1034.3 109.5 L1034.5 111.9 L1034.7 114.3 L1034.9 116.7 L1035.1 119.1 L1035.3 121.5 L1035.5 123.9 L1035.7 126.3 L1035.9 128.7 L1036.2 131.1 L1036.4 133.5 L1036.6 135.9 L1036.9 138.3 L1037.1 140.7 L1037.4 143.1 L1037.6 145.5 L1037.9 147.9 L1038.1 150.3 L1038.4 152.7 L1038.7 155.1 L1038.9 157.5 L1039.2 159.8 L1039.5 162.2 L1039.8 164.6 L1040.1 167.0 L1040.5 169.4 L1040.8 171.8 L1041.1 174.2 L1041.4 176.6 L1041.8 179.0 L1042.1 181.4 L1042.5 183.8 L1042.9 186.1 L1043.2 188.5 L1043.6 190.9 L1044.0 193.3 L1044.4 195.7 L1044.8 198.0 L1045.2 200.4 L1045.6 202.8 L1046.0 205.2 L1046.5 207.5 L1046.9 209.9 L1047.3 212.3 L1047.8 214.6 L1048.3 217.0 L1048.8 219.3 L1049.3 221.7 L1049.8 224.0 L1050.4 226.4 L1050.9 228.7 L1051.5 231.1 L1052.1 233.4 L1052.6 235.8 L1053.2 238.1 L1053.8 240.5 L1054.3 242.8 L1054.9 245.2 L1055.5 247.5 L1056.1 249.8 L1056.7 252.2 L1057.4 254.5 L1058.0 256.8 L1058.7 259.1 L1059.3 261.4 L1060.0 263.7 L1060.7 266.1 L1061.5 268.4 L1062.2 270.7 L1062.9 272.9 L1063.7 275.2 L1064.5 277.5 L1065.3 279.8 L1066.1 282.1 L1066.9 284.3 L1067.8 286.6 L1068.6 288.8 L1069.5 291.1 L1070.4 293.3 L1071.3 295.5 L1072.3 297.8 L1073.2 300.0 L1074.2 302.2 L1075.2 304.4 L1076.2 306.6 L1077.2 308.8 L1078.2 310.9 L1079.3 313.1 L1080.3 315.3 L1081.4 317.4 L1082.5 319.6 L1083.6 321.7 L1084.8 323.8 L1085.9 325.9 L1087.1 328.0 L1088.3 330.1 L1089.5 332.2 L1090.8 334.3 L1092.0 336.4 L1093.3 338.4 L1094.6 340.4 L1095.9 342.4 L1097.3 344.4 L1098.6 346.4 L1100.0 348.4 L1101.4 350.4 L1102.8 352.4 L1104.2 354.3 L1105.6 356.3 L1107.0 358.2 L1108.5 360.1 L1109.9 362.1 L1111.4 364.0 L1112.9 365.9 L1114.3 367.8 L1115.8 369.7 L1117.4 371.5 L1118.9 373.4 L1120.4 375.3 L1122.0 377.1 L1123.6 378.9 L1125.2 380.7 L1126.8 382.5 L1128.4 384.3 L1130.0 386.1 L1131.7 387.9 L1133.3 389.6 L1135.0 391.3 L1136.7 393.1 L1138.4 394.8 L1140.1 396.5 L1141.8 398.1 L1143.6 399.8 L1145.3 401.5 L1147.1 403.1 L1148.9 404.7 L1150.6 406.4 L1152.4 408.0 L1154.3 409.6 L1156.1 411.1 L1157.9 412.7 L1159.8 414.2 L1161.6 415.8 L1163.5 417.3 L1165.4 418.8 L1167.3 420.3 L1169.1 421.8 L1171.1 423.3 L1173.0 424.7 L1174.9 426.2 L1176.8 427.6 L1178.8 429.1 L1180.7 430.5 L1182.7 431.9 L1184.7 433.3 L1186.6 434.6 L1188.6 436.0 L1190.6 437.4 L1192.6 438.7 L1194.6 440.0 L1196.6 441.4 L1198.7 442.7 L1200.7 444.0 L1202.7 445.3 L1204.8 446.5 L1206.8 447.8 L1208.9 449.1 L1210.9 450.3 L1213.0 451.5 L1215.1 452.8 L1217.2 454.0 L1219.3 455.2 L1221.4 456.4 L1223.5 457.6 L1225.6 458.8 L1227.7 459.9 L1229.8 461.1 L1231.9 462.2 L1234.0 463.4 L1236.2 464.5 L1238.3 465.6 L1240.4 466.7 L1242.6 467.8 L1244.7 468.9 L1246.9 470.0 L1249.0 471.1 L1251.2 472.2 L1253.4 473.2 L1255.5 474.3 L1257.7 475.3 L1259.9 476.4 L1262.1 477.4 L1264.2 478.4 L1266.4 479.4 L1268.6 480.4 L1270.8 481.4 L1273.0 482.4 L1275.2 483.4 L1277.4 484.4 L1279.6 485.3 L1281.8 486.3 L1284.1 487.2 L1286.3 488.2 L1288.5 489.1 L1290.7 490.1 L1292.9 491.0 L1295.2 491.9 L1297.4 492.8 L1299.6 493.7 L1301.9 494.6 L1304.1 495.5 L1306.3 496.4 L1308.6 497.3 L1310.8 498.2 L1313.1 499.0 L1315.3 499.9 L1317.6 500.8 L1319.8 501.6 L1322.1 502.5 L1324.4 503.3 L1326.6 504.1 L1328.9 505.0 L1331.1 505.8 L1333.4 506.6 L1335.7 507.4 L1338.0 508.2 L1340.2 509.0 L1342.5 509.8 L1344.8 510.6 L1347.1 511.4 L1349.3 512.2 L1351.6 513.0 L1353.9 513.8 L1356.2 514.5 L1358.5 515.3 L1360.8 516.0 L1363.1 516.8 L1365.3 517.5 L1367.6 518.3 L1369.9 519.0 L1372.2 519.8 L1374.5 520.5 L1376.8 521.2 L1379.1 521.9 L1381.4 522.7 L1383.7 523.4 L1386.0 524.1 L1388.3 524.8 L1390.6 525.5 L1393.0 526.2 L1395.3 526.9 L1397.6 527.6 L1399.9 528.3 L1402.2 528.9 L1404.5 529.6 L1406.8 530.3 L1409.1 531.0 L1411.5 531.6 L1413.8 532.3 L1416.1 532.9 L1418.4 533.6 L1420.7 534.3 L1423.1 534.9 L1425.4 535.5 L1427.7 536.2 L1430.0 536.8 L1432.4 537.5 L1434.7 538.1 L1437.0 538.7 L1439.3 539.4 L1441.7 540.0 L1444.0 540.6 L1446.3 541.2 L1448.7 541.8 L1451.0 542.4 L1453.3 543.0 L1455.7 543.6 L1458.0 544.2 L1460.3 544.8 L1462.7 545.4 L1465.0 546.0 L1467.3 546.6 L1469.7 547.2 L1472.0 547.8 L1474.4 548.4 L1476.7 549.0 L1479.0 549.5 L1481.4 550.1 L1483.7 550.7 L1486.1 551.2 L1488.4 551.8 L1490.7 552.4 L1493.1 552.9 L1495.4 553.5 L1497.8 554.0 L1500.1 554.6 L1502.5 555.1 L1504.8 555.7 L1507.2 556.2 L1509.5 556.8 L1511.9 557.3 L1514.2 557.8 L1516.6 558.4 L1518.9 558.9 L1521.3 559.4 L1523.6 560.0 L1526.0 560.5 L1528.3 561.0 L1530.7 561.5 L1533.1 562.0 L1535.4 562.5 L1537.8 563.1 L1540.1 563.6 L1542.5 564.1 L1544.8 564.6 L1547.2 565.1 L1549.5 565.6 L1551.9 566.1 L1554.3 566.6 L1556.6 567.1 L1559.0 567.6 L1561.3 568.0 L1563.7 568.5 L1566.1 569.0 L1568.4 569.5 L1570.8 570.0 L1573.2 570.5 L1575.5 570.9 L1577.9 571.4 L1580.2 571.9 L1582.6 572.4 L1585.0 572.8 L1587.3 573.3 L1589.7 573.8 L1592.1 574.2 L1594.4 574.7 L1596.8 575.1 L1599.2 575.6 L1601.5 576.0 L1603.9 576.5 L1606.3 576.9 L1608.6 577.4 L1611.0 577.8 L1613.4 578.3 L1615.8 578.7 L1618.1 579.2 L1620.5 579.6 L1622.9 580.0 L1625.2 580.5 L1627.6 580.9 L1630.0 581.3 L1632.4 581.8 L1634.7 582.2 L1637.1 582.6 L1639.5 583.1 L1641.8 583.5 L1644.2 583.9 L1646.6 584.3 L1649.0 584.8 L1651.3 585.2 L1653.7 585.6 L1656.1 586.0 L1658.5 586.4 L1660.8 586.8 L1663.2 587.2 L1665.6 587.6 L1668.0 588.1 L1670.3 588.5 L1672.7 588.9 L1675.1 589.3 L1677.5 589.7 L1679.9 590.1 L1682.2 590.5 L1684.6 590.9 L1687.0 591.3 L1689.4 591.7 L1691.7 592.0 L1694.1 592.4 L1696.5 592.8 L1698.9 593.2 L1701.3 593.6 L1703.6 594.0 L1706.0 594.4 L1708.4 594.8 L1710.8 595.1 L1713.2 595.5 L1715.5 595.9 L1717.9 596.3 L1720.3 596.6 L1722.7 597.0 L1725.1 597.4 L1727.4 597.8 L1729.8 598.1 L1732.2 598.5 L1734.6 598.9 L1737.0 599.2 L1739.4 599.6 L1741.7 600.0 L1744.1 600.3 L1746.5 600.7 L1748.9 601.1 L1751.3 601.4 L1753.7 601.8 L1756.0 602.1 L1758.4 602.5 L1760.8 602.9 L1763.2 603.2 L1765.6 603.6 L1768.0 603.9 L1770.3 604.3 L1772.7 604.6 L1775.1 605.0 L1777.5 605.3 L1779.9 605.7 L1782.3 606.0 L1784.7 606.4 L1787.0 606.7" stroke="#ff0000"/>
<path d="M1030.3 30.0 L1030.3 32.4 L1030.3 34.8 L1030.4 37.2 L1030.4 39.6 L1030.4 41.9 L1030.5 44.3 L1030.5 46.7 L1030.6 49.1 L1030.6 51.5 L1030.7 53.9 L1030.8 56.3 L1030.8 58.7 L1030.9 61.0 L1031.0 63.4 L1031.1 65.8 L1031.1 68.2 L1031.2 70.6 L1031.3 73.0 L1031.4 75.4 L1031.5 77.7 L1031.6 80.1 L1031.7 82.5 L1031.8 84.9 L1031.9 87.3 L1032.0 89.7 L1032.1 92.0 L1032.2 94.4 L1032.3 96.8 L1032.5 99.2 L1032.6 101.6 L1032.7 104.0 L1032.9 106.3 L1033.1 108.7 L1033.2 111.1 L1033.4 113.5 L1033.6 115.9 L1033.8 118.2 L1034.0 120.6 L1034.2 123.0 L1034.4 125.4 L1034.6 127.8 L1034.8 130.2 L1035.0 132.5 L1035.2 134.9 L1035.5 137.3 L1035.7 139.7 L1035.9 142.0 L1036.1 144.4 L1036.4 146.8 L1036.6 149.2 L1036.9 151.5 L1037.1 153.9 L1037.4 156.3 L1037.6 158.6 L1037.9 161.0 L1038.2 163.4 L1038.5 165.8 L1038.8 168.1 L1039.1 170.5 L1039.4 172.9 L1039.7 175.2 L1040.0 177.6 L1040.3 180.0 L1040.7 182.3 L1041.0 184.7 L1041.4 187.1 L1041.7 189.4 L1042.1 191.8 L1042.4 194.2 L1042.8 196.5 L1043.2 198.9 L1043.5 201.2 L1043.9 203.6 L1044.3 205.9 L1044.7 208.3 L1045.1 210.6 L1045.5 213.0 L1045.9 215.3 L1046.4 217.7 L1046.8 220.0 L1047.3 222.4 L1047.8 224.7 L1048.3 227.0 L1048.8 229.4 L1049.3 231.7 L1049.8 234.0 L1050.3 236.4 L1050.9 238.7 L1051.4 241.0 L1051.9 243.4 L1052.5 245.7 L1053.1 248.0 L1053.7 250.3 L1054.3 252.6 L1055.0 254.9 L1055.6 257.2 L1056.3 259.5 L1056.9 261.8 L1057.6 264.1 L1058.3 266.4 L1059.0 268.6 L1059.8 270.9 L1060.5 273.2 L1061.3 275.4 L1062.1 277.7 L1062.9 279.9 L1063.7 282.2 L1064.6 284.4 L1065.4 286.6 L1066.3 288.8 L1067.2 291.1 L1068.1 293.3 L1069.1 295.5 L1070.0 297.7 L1071.0 299.8 L1072.0 302.0 L1073.0 304.2 L1074.0 306.3 L1075.0 308.5 L1076.1 310.6 L1077.2 312.7 L1078.3 314.8 L1079.4 317.0 L1080.6 319.1 L1081.7 321.1 L1082.9 323.2 L1084.1 325.3 L1085.3 327.3 L1086.5 329.4 L1087.8 331.4 L1089.1 333.4 L1090.4 335.4 L1091.7 337.4 L1093.0 339.4 L1094.3 341.4 L1095.7 343.3 L1097.1 345.3 L1098.5 347.2 L1099.9 349.1 L1101.4 351.0 L1102.8 352.9 L1104.3 354.8 L1105.8 356.7 L1107.3 358.6 L1108.8 360.4 L1110.3 362.2 L1111.8 364.1 L1113.4 365.9 L1115.0 367.7 L1116.6 369.4 L1118.2 371.2 L1119.8 373.0 L1121.4 374.7 L1123.1 376.4 L1124.7 378.1 L1126.4 379.8 L1128.1 381.5 L1129.8 383.2 L1131.5 384.8 L1133.3 386.5 L1135.0 388.1 L1136.8 389.7 L1138.6 391.3 L1140.4 392.9 L1142.2 394.5 L1144.0 396.0 L1145.8 397.6 L1147.6 399.1 L1149.5 400.6 L1151.3 402.1 L1153.2 403.6 L1155.1 405.0 L1157.0 406.5 L1158.9 407.9 L1160.8 409.4 L1162.7 410.8 L1164.7 412.2 L1166.6 413.6 L1168.5 414.9 L1170.5 416.3 L1172.5 417.6 L1174.5 419.0 L1176.4 420.3 L1178.4 421.6 L1180.4 422.9 L1182.5 424.2 L1184.5 425.5 L1186.5 426.7 L1188.5 428.0 L1190.6 429.2 L1192.6 430.5 L1194.7 431.7 L1196.7 432.9 L1198.8 434.1 L1200.9 435.3 L1202.9 436.4 L1205.0 437.6 L1207.1 438.8 L1209.2 439.9 L1211.3 441.0 L1213.4 442.1 L1215.5 443.2 L1217.7 444.3 L1219.8 445.4 L1221.9 446.5 L1224.1 447.6 L1226.2 448.6 L1228.3 449.7 L1230.5 450.7 L1232.6 451.8 L1234.8 452.8 L1237.0 453.8 L1239.1 454.8 L1241.3 455.8 L1243.5 456.8 L1245.6 457.8 L1247.8 458.7 L1250.0 459.7 L1252.2 460.6 L1254.4 461.6 L1256.6 462.5 L1258.8 463.5 L1261.0 464.4 L1263.2 465.3 L1265.4 466.2 L1267.6 467.1 L1269.8 468.0 L1272.0 468.9 L1274.3 469.8 L1276.5 470.6 L1278.7 471.5 L1280.9 472.3 L1283.2 473.2 L1285.4 474.0 L1287.6 474.9 L1289.9 475.7 L1292.1 476.5 L1294.4 477.3 L1296.6 478.2 L1298.9 479.0 L1301.1 479.8 L1303.4 480.6 L1305.6 481.3 L1307.9 482.1 L1310.1 482.9 L1312.4 483.7 L1314.6 484.4 L1316.9 485.2 L1319.2 486.0 L1321.4 486.7 L1323.7 487.4 L1326.0 488.2 L1328.3 488.9 L1330.5 489.6 L1332.8 490.4 L1335.1 491.1 L1337.4 491.8 L1339.6 492.5 L1341.9 493.2 L1344.2 493.9 L1346.5 494.6 L1348.8 495.3 L1351.1 496.0 L1353.3 496.7 L1355.6 497.3 L1357.9 498.0 L1360.2 498.7 L1362.5 499.3 L1364.8 500.0 L1367.1 500.6 L1369.4 501.3 L1371.7 501.9 L1374.0 502.6 L1376.3 503.2 L1378.6 503.9 L1380.9 504.5 L1383.2 505.1 L1385.5 505.7 L1387.8 506.4 L1390.1 507.0 L1392.4 507.6 L1394.7 508.2 L1397.0 508.8 L1399.4 509.4 L1401.7 510.0 L1404.0 510.6 L1406.3 511.2 L1408.6 511.8 L1410.9 512.3 L1413.2 512.9 L1415.6 513.5 L1417.9 514.1 L1420.2 514.6 L1422.5 515.2 L1424.8 515.8 L1427.2 516.3 L1429.5 516.9 L1431.8 517.4 L1434.1 518.0 L1436.4 518.5 L1438.8 519.1 L1441.1 519.6 L1443.4 520.2 L1445.7 520.7 L1448.1 521.2 L1450.4 521.8 L1452.7 522.3 L1455.1 522.8 L1457.4 523.3 L1459.7 523.8 L1462.0 524.4 L1464.4 524.9 L1466.7 525.4 L1469.0 525.9 L1471.4 526.4 L1473.7 526.9 L1476.0 527.4 L1478.4 527.9 L1480.7 528.4 L1483.0 528.9 L1485.4 529.4 L1487.7 529.9 L1490.1 530.4 L1492.4 530.8 L1494.7 531.3 L1497.1 531.8 L1499.4 532.3 L1501.8 532.7 L1504.1 533.2 L1506.4 533.7 L1508.8 534.1 L1511.1 534.6 L1513.5 535.1 L1515.8 535.5 L1518.1 536.0 L1520.5 536.5 L1522.8 536.9 L1525.2 537.4 L1527.5 537.8 L1529.9 538.3 L1532.2 538.7 L1534.6 539.1 L1536.9 539.6 L1539.2 540.0 L1541.6 540.5 L1543.9 540.9 L1546.3 541.3 L1548.6 541.8 L1551.0 542.2 L1553.3 542.6 L1555.7 543.0 L1558.0 543.5 L1560.4 543.9 L1562.7 544.3 L1565.1 544.7 L1567.4 545.1 L1569.8 545.6 L1572.1 546.0 L1574.5 546.4 L1576.8 546.8 L1579.2 547.2 L1581.5 547.6 L1583.9 548.0 L1586.2 548.4 L1588.6 548.8 L1591.0 549.2 L1593.3 549.6 L1595.7 550.0 L1598.0 550.4 L1600.4 550.8 L1602.7 551.2 L1605.1 551.6 L1607.4 552.0 L1609.8 552.4 L1612.2 552.7 L1614.5 553.1 L1616.9 553.5 L1619.2 553.9 L1621.6 554.3 L1623.9 554.6 L1626.3 555.0 L1628.7 555.4 L1631.0 555.8 L1633.4 556.1 L1635.7 556.5 L1638.1 556.9 L1640.4 557.2 L1642.8 557.6 L1645.2 558.0 L1647.5 558.3 L1649.9 558.7 L1652.2 559.0 L1654.6 559.4 L1657.0 559.8 L1659.3 560.1 L1661.7 560.5 L1664.0 560.8 L1666.4 561.2 L1668.8 561.5 L1671.1 561.9 L1673.5 562.2 L1675.9 562.6 L1678.2 562.9 L1680.6 563.2 L1682.9 563.6 L1685.3 563.9 L1687.7 564.3 L1690.0 564.6 L1692.4 564.9 L1694.8 565.3 L1697.1 565.6 L1699.5 565.9 L1701.8 566.3 L1704.2 566.6 L1706.6 566.9 L1708.9 567.3 L1711.3 567.6 L1713.7 567.9 L1716.0 568.2 L1718.4 568.6 L1720.8 568.9 L1723.1 569.2 L1725.5 569.5 L1727.9 569.9 L1730.2 570.2 L1732.6 570.5 L1735.0 570.8 L1737.3 571.1 L1739.7 571.4 L1742.1 571.7 L1744.4 572.1 L1746.8 572.4 L1749.2 572.7 L1751.5 573.0 L1753.9 573.3 L1756.3 573.6 L1758.6 573.9 L1761.0 574.2 L1763.4 574.5 L1765.7 574.8 L1768.1 575.1 L1770.5 575.4 L1772.8 575.7 L1775.2 576.0 L1777.6 576.3 L1779.9 576.6 L1782.3 576.9 L1784.7 577.2 L1787.0 577.5" stroke="#000000"/>
<path d="M1030.1 30.0 L1030.1 32.4 L1030.1 34.7 L1030.1 37.1 L1030.1 39.5 L1030.2 41.8 L1030.2 44.2 L1030.2 46.6 L1030.2 48.9 L1030.3 51.3 L1030.3 53.7 L1030.3 56.0 L1030.4 58.4 L1030.4 60.8 L1030.5 63.1 L1030.5 65.5 L1030.6 67.9 L1030.6 70.2 L1030.7 72.6 L1030.7 75.0 L1030.8 77.3 L1030.8 79.7 L1030.9 82.1 L1031.0 84.4 L1031.0 86.8 L1031.1 89.1 L1031.1 91.5 L1031.2 93.9 L1031.3 96.2 L1031.4 98.6 L1031.5 101.0 L1031.7 103.3 L1031.8 105.7 L1031.9 108.0 L1032.1 110.4 L1032.3 112.8 L1032.4 115.1 L1032.6 117.5 L1032.8 119.9 L1033.0 122.2 L1033.2 124.6 L1033.4 126.9 L1033.6 129.3 L1033.8 131.7 L1034.0 134.0 L1034.2 136.4 L1034.4 138.7 L1034.7 141.1 L1034.9 143.4 L1035.1 145.8 L1035.3 148.1 L1035.5 150.5 L1035.8 152.9 L1036.0 155.2 L1036.3 157.6 L1036.5 159.9 L1036.8 162.3 L1037.0 164.6 L1037.3 167.0 L1037.6 169.3 L1037.9 171.7 L1038.1 174.0 L1038.4 176.4 L1038.7 178.7 L1039.1 181.1 L1039.4 183.4 L1039.7 185.8 L1040.0 188.1 L1040.4 190.5 L1040.7 192.8 L1041.1 195.1 L1041.4 197.5 L1041.8 199.8 L1042.1 202.2 L1042.5 204.5 L1042.9 206.8 L1043.3 209.2 L1043.7 211.5 L1044.1 213.8 L1044.5 216.1 L1044.9 218.5 L1045.4 220.8 L1045.9 223.1 L1046.4 225.4 L1046.9 227.7 L1047.4 230.0 L1047.9 232.3 L1048.4 234.7 L1049.0 237.0 L1049.5 239.3 L1050.0 241.6 L1050.6 243.9 L1051.1 246.2 L1051.7 248.5 L1052.3 250.8 L1052.9 253.1 L1053.5 255.3 L1054.2 257.6 L1054.8 259.9 L1055.5 262.2 L1056.2 264.4 L1056.9 266.7 L1057.6 268.9 L1058.3 271.2 L1059.1 273.4 L1059.8 275.7 L1060.6 277.9 L1061.4 280.1 L1062.2 282.4 L1063.1 284.6 L1063.9 286.8 L1064.8 289.0 L1065.7 291.1 L1066.7 293.3 L1067.6 295.5 L1068.6 297.6 L1069.6 299.8 L1070.6 301.9 L1071.6 304.1 L1072.7 306.2 L1073.7 308.3 L1074.8 310.4 L1075.9 312.5 L1077.1 314.6 L1078.2 316.6 L1079.4 318.7 L1080.6 320.7 L1081.8 322.8 L1083.0 324.8 L1084.3 326.8 L1085.5 328.8 L1086.8 330.8 L1088.1 332.8 L1089.4 334.7 L1090.8 336.7 L1092.1 338.6 L1093.5 340.6 L1094.9 342.5 L1096.3 344.4 L1097.7 346.3 L1099.1 348.1 L1100.6 350.0 L1102.1 351.8 L1103.6 353.7 L1105.1 355.5 L1106.7 357.3 L1108.2 359.1 L1109.8 360.8 L1111.4 362.6 L1113.0 364.3 L1114.6 366.0 L1116.3 367.7 L1118.0 369.4 L1119.6 371.0 L1121.3 372.7 L1123.1 374.3 L1124.8 375.9 L1126.5 377.5 L1128.3 379.1 L1130.1 380.7 L1131.9 382.2 L1133.7 383.8 L1135.5 385.3 L1137.3 386.8 L1139.1 388.3 L1141.0 389.7 L1142.9 391.2 L1144.7 392.6 L1146.6 394.0 L1148.5 395.5 L1150.5 396.8 L1152.4 398.2 L1154.3 399.6 L1156.3 400.9 L1158.2 402.3 L1160.2 403.6 L1162.2 404.9 L1164.1 406.2 L1166.1 407.5 L1168.1 408.7 L1170.1 410.0 L1172.2 411.2 L1174.2 412.4 L1176.2 413.6 L1178.3 414.8 L1180.3 416.0 L1182.4 417.2 L1184.4 418.4 L1186.5 419.5 L1188.6 420.6 L1190.6 421.8 L1192.7 422.9 L1194.8 424.0 L1196.9 425.1 L1199.0 426.1 L1201.2 427.2 L1203.3 428.3 L1205.4 429.3 L1207.5 430.3 L1209.7 431.4 L1211.8 432.4 L1213.9 433.4 L1216.1 434.4 L1218.2 435.4 L1220.4 436.3 L1222.6 437.3 L1224.7 438.2 L1226.9 439.2 L1229.1 440.1 L1231.2 441.0 L1233.4 441.9 L1235.6 442.9 L1237.8 443.8 L1240.0 444.6 L1242.2 445.5 L1244.4 446.4 L1246.6 447.3 L1248.8 448.1 L1251.0 449.0 L1253.2 449.8 L1255.4 450.6 L1257.7 451.4 L1259.9 452.3 L1262.1 453.1 L1264.3 453.9 L1266.6 454.7 L1268.8 455.4 L1271.0 456.2 L1273.3 457.0 L1275.5 457.8 L1277.7 458.5 L1280.0 459.3 L1282.2 460.0 L1284.5 460.8 L1286.7 461.5 L1289.0 462.2 L1291.2 462.9 L1293.5 463.7 L1295.8 464.4 L1298.0 465.1 L1300.3 465.8 L1302.5 466.5 L1304.8 467.1 L1307.1 467.8 L1309.3 468.5 L1311.6 469.2 L1313.9 469.8 L1316.1 470.5 L1318.4 471.1 L1320.7 471.8 L1323.0 472.4 L1325.3 473.1 L1327.5 473.7 L1329.8 474.3 L1332.1 475.0 L1334.4 475.6 L1336.7 476.2 L1338.9 476.8 L1341.2 477.4 L1343.5 478.0 L1345.8 478.6 L1348.1 479.2 L1350.4 479.8 L1352.7 480.4 L1355.0 481.0 L1357.3 481.6 L1359.6 482.1 L1361.9 482.7 L1364.2 483.3 L1366.5 483.8 L1368.8 484.4 L1371.1 484.9 L1373.4 485.5 L1375.7 486.0 L1378.0 486.6 L1380.3 487.1 L1382.6 487.7 L1384.9 488.2 L1387.2 488.7 L1389.5 489.3 L1391.8 489.8 L1394.1 490.3 L1396.4 490.8 L1398.7 491.3 L1401.0 491.8 L1403.3 492.3 L1405.7 492.9 L1408.0 493.4 L1410.3 493.9 L1412.6 494.3 L1414.9 494.8 L1417.2 495.3 L1419.5 495.8 L1421.9 496.3 L1424.2 496.8 L1426.5 497.3 L1428.8 497.7 L1431.1 498.2 L1433.4 498.7 L1435.8 499.1 L1438.1 499.6 L1440.4 500.1 L1442.7 500.5 L1445.1 501.0 L1447.4 501.4 L1449.7 501.9 L1452.0 502.3 L1454.3 502.8 L1456.7 503.2 L1459.0 503.7 L1461.3 504.1 L1463.6 504.6 L1466.0 505.0 L1468.3 505.4 L1470.6 505.9 L1472.9 506.3 L1475.3 506.7 L1477.6 507.1 L1479.9 507.6 L1482.3 508.0 L1484.6 508.4 L1486.9 508.8 L1489.2 509.2 L1491.6 509.6 L1493.9 510.0 L1496.2 510.4 L1498.6 510.8 L1500.9 511.3 L1503.2 511.7 L1505.6 512.0 L1507.9 512.4 L1510.2 512.8 L1512.6 513.2 L1514.9 513.6 L1517.2 514.0 L1519.6 514.4 L1521.9 514.8 L1524.2 515.2 L1526.6 515.5 L1528.9 515.9 L1531.2 516.3 L1533.6 516.7 L1535.9 517.0 L1538.3 517.4 L1540.6 517.8 L1542.9 518.2 L1545.3 518.5 L1547.6 518.9 L1549.9 519.2 L1552.3 519.6 L1554.6 520.0 L1557.0 520.3 L1559.3 520.7 L1561.6 521.0 L1564.0 521.4 L1566.3 521.7 L1568.7 522.1 L1571.0 522.4 L1573.3 522.8 L1575.7 523.1 L1578.0 523.5 L1580.4 523.8 L1582.7 524.1 L1585.0 524.5 L1587.4 524.8 L1589.7 525.2 L1592.1 525.5 L1594.4 525.8 L1596.8 526.2 L1599.1 526.5 L1601.4 526.8 L1603.8 527.1 L1606.1 527.5 L1608.5 527.8 L1610.8 528.1 L1613.2 528.4 L1615.5 528.7 L1617.9 529.1 L1620.2 529.4 L1622.5 529.7 L1624.9 530.0 L1627.2 530.3 L1629.6 530.6 L1631.9 530.9 L1634.3 531.2 L1636.6 531.6 L1639.0 531.9 L1641.3 532.2 L1643.7 532.5 L1646.0 532.8 L1648.4 533.1 L1650.7 533.4 L1653.0 533.7 L1655.4 534.0 L1657.7 534.3 L1660.1 534.6 L1662.4 534.8 L1664.8 535.1 L1667.1 535.4 L1669.5 535.7 L1671.8 536.0 L1674.2 536.3 L1676.5 536.6 L1678.9 536.9 L1681.2 537.2 L1683.6 537.4 L1685.9 537.7 L1688.3 538.0 L1690.6 538.3 L1693.0 538.6 L1695.3 538.8 L1697.7 539.1 L1700.0 539.4 L1702.4 539.7 L1704.7 539.9 L1707.1 540.2 L1709.4 540.5 L1711.8 540.8 L1714.1 541.0 L1716.5 541.3 L1718.8 541.6 L1721.2 541.8 L1723.5 542.1 L1725.9 542.4 L1728.2 542.6 L1730.6 542.9 L1732.9 543.1 L1735.3 543.4 L1737.6 543.7 L1740.0 543.9 L1742.3 544.2 L1744.7 544.4 L1747.0 544.7 L1749.4 545.0 L1751.8 545.2 L1754.1 545.5 L1756.5 545.7 L1758.8 546.0 L1761.2 546.2 L1763.5 546.5 L1765.9 546.7 L1768.2 547.0 L1770.6 547.2 L1772.9 547.5 L1775.3 547.7 L1777.6 548.0 L1780.0 548.2 L1782.3 548.4 L1784.7 548.7 L1787.0 548.9" stroke="#0000ff"/>
<path d="M1029.9 30.0 L1029.9 32.4 L1029.9 34.7 L1029.9 37.1 L1029.9 39.4 L1029.9 41.8 L1029.9 44.1 L1029.9 46.5 L1029.9 48.8 L1029.9 51.2 L1029.9 53.5 L1030.0 55.9 L1030.0 58.2 L1030.0 60.6 L1030.0 62.9 L1030.0 65.3 L1030.0 67.6 L1030.0 70.0 L1030.1 72.3 L1030.1 74.7 L1030.1 77.0 L1030.1 79.4 L1030.1 81.7 L1030.1 84.1 L1030.2 86.4 L1030.2 88.8 L1030.2 91.1 L1030.3 93.4 L1030.3 95.8 L1030.4 98.1 L1030.5 100.5 L1030.6 102.8 L1030.7 105.2 L1030.8 107.5 L1030.9 109.9 L1031.1 112.2 L1031.2 114.6 L1031.4 116.9 L1031.6 119.3 L1031.7 121.6 L1031.9 124.0 L1032.1 126.3 L1032.3 128.6 L1032.5 131.0 L1032.7 133.3 L1032.9 135.7 L1033.1 138.0 L1033.3 140.4 L1033.6 142.7 L1033.8 145.0 L1034.0 147.4 L1034.2 149.7 L1034.4 152.1 L1034.6 154.4 L1034.8 156.7 L1035.1 159.1 L1035.3 161.4 L1035.5 163.7 L1035.8 166.1 L1036.1 168.4 L1036.3 170.8 L1036.6 173.1 L1036.9 175.4 L1037.2 177.8 L1037.5 180.1 L1037.8 182.4 L1038.1 184.8 L1038.4 187.1 L1038.7 189.4 L1039.0 191.7 L1039.4 194.1 L1039.7 196.4 L1040.0 198.7 L1040.4 201.1 L1040.7 203.4 L1041.0 205.7 L1041.4 208.0 L1041.8 210.3 L1042.1 212.7 L1042.5 215.0 L1042.9 217.3 L1043.3 219.6 L1043.7 221.9 L1044.1 224.2 L1044.6 226.6 L1045.0 228.9 L1045.5 231.2 L1045.9 233.5 L1046.4 235.8 L1046.9 238.1 L1047.4 240.4 L1047.9 242.7 L1048.4 245.0 L1049.0 247.2 L1049.5 249.5 L1050.1 251.8 L1050.7 254.1 L1051.3 256.3 L1051.9 258.6 L1052.6 260.9 L1053.2 263.1 L1053.9 265.4 L1054.6 267.6 L1055.3 269.9 L1056.0 272.1 L1056.7 274.3 L1057.5 276.6 L1058.3 278.8 L1059.1 281.0 L1059.9 283.2 L1060.7 285.4 L1061.6 287.5 L1062.6 289.7 L1063.5 291.9 L1064.5 294.0 L1065.5 296.1 L1066.5 298.3 L1067.5 300.4 L1068.5 302.5 L1069.6 304.6 L1070.6 306.7 L1071.7 308.8 L1072.9 310.8 L1074.0 312.9 L1075.2 314.9 L1076.3 317.0 L1077.5 319.0 L1078.8 321.0 L1080.0 323.0 L1081.3 325.0 L1082.6 326.9 L1083.9 328.9 L1085.2 330.8 L1086.5 332.7 L1087.9 334.7 L1089.3 336.6 L1090.7 338.5 L1092.1 340.4 L1093.5 342.2 L1094.9 344.1 L1096.3 345.9 L1097.8 347.8 L1099.3 349.6 L1100.8 351.4 L1102.4 353.2 L1103.9 354.9 L1105.5 356.7 L1107.1 358.4 L1108.8 360.1 L1110.4 361.7 L1112.1 363.3 L1113.8 365.0 L1115.6 366.6 L1117.3 368.1 L1119.0 369.7 L1120.8 371.2 L1122.6 372.8 L1124.4 374.3 L1126.2 375.7 L1128.1 377.2 L1129.9 378.7 L1131.8 380.1 L1133.7 381.5 L1135.6 382.9 L1137.5 384.3 L1139.4 385.6 L1141.3 387.0 L1143.3 388.3 L1145.2 389.6 L1147.2 390.9 L1149.1 392.2 L1151.1 393.4 L1153.1 394.7 L1155.1 395.9 L1157.1 397.1 L1159.2 398.3 L1161.2 399.5 L1163.2 400.7 L1165.3 401.8 L1167.3 403.0 L1169.4 404.1 L1171.5 405.2 L1173.5 406.3 L1175.6 407.4 L1177.7 408.5 L1179.8 409.5 L1181.9 410.6 L1184.0 411.6 L1186.1 412.7 L1188.3 413.7 L1190.4 414.7 L1192.5 415.7 L1194.6 416.6 L1196.8 417.6 L1198.9 418.5 L1201.1 419.5 L1203.2 420.4 L1205.4 421.3 L1207.6 422.3 L1209.7 423.2 L1211.9 424.0 L1214.1 424.9 L1216.3 425.8 L1218.5 426.7 L1220.7 427.5 L1222.9 428.3 L1225.1 429.2 L1227.3 430.0 L1229.5 430.8 L1231.7 431.6 L1233.9 432.4 L1236.1 433.2 L1238.3 434.0 L1240.5 434.7 L1242.8 435.5 L1245.0 436.3 L1247.2 437.0 L1249.4 437.8 L1251.7 438.5 L1253.9 439.2 L1256.1 439.9 L1258.4 440.6 L1260.6 441.3 L1262.9 442.0 L1265.1 442.7 L1267.4 443.4 L1269.6 444.1 L1271.9 444.7 L1274.1 445.4 L1276.4 446.1 L1278.6 446.7 L1280.9 447.4 L1283.2 448.0 L1285.4 448.6 L1287.7 449.3 L1290.0 449.9 L1292.2 450.5 L1294.5 451.1 L1296.8 451.7 L1299.0 452.3 L1301.3 452.9 L1303.6 453.5 L1305.9 454.1 L1308.1 454.7 L1310.4 455.2 L1312.7 455.8 L1315.0 456.4 L1317.3 456.9 L1319.5 457.5 L1321.8 458.1 L1324.1 458.6 L1326.4 459.1 L1328.7 459.7 L1331.0 460.2 L1333.3 460.8 L1335.5 461.3 L1337.8 461.8 L1340.1 462.3 L1342.4 462.8 L1344.7 463.3 L1347.0 463.9 L1349.3 464.4 L1351.6 464.9 L1353.9 465.4 L1356.2 465.8 L1358.5 466.3 L1360.8 466.8 L1363.1 467.3 L1365.4 467.8 L1367.7 468.2 L1370.0 468.7 L1372.3 469.2 L1374.6 469.7 L1376.9 470.1 L1379.2 470.6 L1381.5 471.0 L1383.8 471.5 L1386.1 471.9 L1388.4 472.4 L1390.8 472.8 L1393.1 473.3 L1395.4 473.7 L1397.7 474.1 L1400.0 474.6 L1402.3 475.0 L1404.6 475.4 L1406.9 475.8 L1409.2 476.2 L1411.6 476.7 L1413.9 477.1 L1416.2 477.5 L1418.5 477.9 L1420.8 478.3 L1423.1 478.7 L1425.4 479.1 L1427.8 479.5 L1430.1 479.9 L1432.4 480.3 L1434.7 480.7 L1437.0 481.1 L1439.3 481.5 L1441.7 481.8 L1444.0 482.2 L1446.3 482.6 L1448.6 483.0 L1450.9 483.4 L1453.3 483.7 L1455.6 484.1 L1457.9 484.5 L1460.2 484.8 L1462.5 485.2 L1464.9 485.6 L1467.2 485.9 L1469.5 486.3 L1471.8 486.6 L1474.2 487.0 L1476.5 487.3 L1478.8 487.7 L1481.1 488.0 L1483.4 488.4 L1485.8 488.7 L1488.1 489.1 L1490.4 489.4 L1492.7 489.8 L1495.1 490.1 L1497.4 490.4 L1499.7 490.8 L1502.1 491.1 L1504.4 491.4 L1506.7 491.7 L1509.0 492.1 L1511.4 492.4 L1513.7 492.7 L1516.0 493.0 L1518.3 493.4 L1520.7 493.7 L1523.0 494.0 L1525.3 494.3 L1527.7 494.6 L1530.0 494.9 L1532.3 495.2 L1534.6 495.6 L1537.0 495.9 L1539.3 496.2 L1541.6 496.5 L1544.0 496.8 L1546.3 497.1 L1548.6 497.4 L1551.0 497.7 L1553.3 498.0 L1555.6 498.3 L1558.0 498.6 L1560.3 498.8 L1562.6 499.1 L1565.0 499.4 L1567.3 499.7 L1569.6 500.0 L1571.9 500.3 L1574.3 500.6 L1576.6 500.9 L1578.9 501.1 L1581.3 501.4 L1583.6 501.7 L1585.9 502.0 L1588.3 502.2 L1590.6 502.5 L1592.9 502.8 L1595.3 503.1 L1597.6 503.3 L1600.0 503.6 L1602.3 503.9 L1604.6 504.1 L1607.0 504.4 L1609.3 504.7 L1611.6 504.9 L1614.0 505.2 L1616.3 505.5 L1618.6 505.7 L1621.0 506.0 L1623.3 506.2 L1625.6 506.5 L1628.0 506.8 L1630.3 507.0 L1632.6 507.3 L1635.0 507.5 L1637.3 507.8 L1639.7 508.0 L1642.0 508.3 L1644.3 508.5 L1646.7 508.8 L1649.0 509.0 L1651.3 509.2 L1653.7 509.5 L1656.0 509.7 L1658.4 510.0 L1660.7 510.2 L1663.0 510.5 L1665.4 510.7 L1667.7 510.9 L1670.0 511.2 L1672.4 511.4 L1674.7 511.6 L1677.1 511.9 L1679.4 512.1 L1681.7 512.3 L1684.1 512.6 L1686.4 512.8 L1688.8 513.0 L1691.1 513.3 L1693.4 513.5 L1695.8 513.7 L1698.1 513.9 L1700.4 514.2 L1702.8 514.4 L1705.1 514.6 L1707.5 514.8 L1709.8 515.1 L1712.1 515.3 L1714.5 515.5 L1716.8 515.7 L1719.2 515.9 L1721.5 516.1 L1723.8 516.4 L1726.2 516.6 L1728.5 516.8 L1730.9 517.0 L1733.2 517.2 L1735.5 517.4 L1737.9 517.6 L1740.2 517.9 L1742.6 518.1 L1744.9 518.3 L1747.2 518.5 L1749.6 518.7 L1751.9 518.9 L1754.3 519.1 L1756.6 519.3 L1759.0 519.5 L1761.3 519.7 L1763.6 519.9 L1766.0 520.1 L1768.3 520.3 L1770.7 520.5 L1773.0 520.7 L1775.3 520.9 L1777.7 521.1 L1780.0 521.3 L1782.4 521.5 L1784.7 521.7 L1787.0 521.9" stroke="#00ff00"/>
</g>
<g font-size="23.2" fill="#262626" text-anchor="middle">
<text x="1026" y="670.1">0</text>
<text x="1102.11" y="670.1">2</text>
<text x="1178.21" y="670.1">4</text>
<text x="1254.32" y="670.1">6</text>
<text x="1330.42" y="670.1">8</text>
<text x="1406.53" y="670.1">10</text>
<text x="1482.63" y="670.1">12</text>
<text x="1558.73" y="670.1">14</text>
<text x="1634.84" y="670.1">16</text>
<text x="1710.94" y="670.1">18</text>
<text x="1787.05" y="670.1">20</text>
</g>
<g font-size="23.2" fill="#262626" text-anchor="end">
<text x="1015.5" y="645.3">0.975</text>
<text x="1015.5" y="524.96">0.98</text>
<text x="1015.5" y="404.62">0.985</text>
<text x="1015.5" y="284.28">0.99</text>
<text x="1015.5" y="163.94">0.995</text>
<text x="1015.5" y="43.6">1</text>
</g>
<text x="1405.53" y="702.9" font-size="25.8" fill="#262626" text-anchor="middle">t</text>
<text transform="translate(1406.83 21.8) scale(1.022 1)" font-size="25.1" font-weight="bold" fill="#000" text-anchor="middle">Proposed Method</text>
<text transform="translate(932.4 333.75) rotate(-90)" font-size="25.8" fill="#262626" text-anchor="middle">I<tspan font-size="21.2" dy="12.4">BT</tspan><tspan dy="-12.4">(t)</tspan></text>
<rect x="1610.5" y="53.2" width="157.6" height="120.6" fill="#fff" stroke="#262626" stroke-width="1.9"/>
<path d="M1616.8 70.6h71" stroke="#ff0000" stroke-width="3.5" fill="none"/>
<text y="79.5" font-size="21.4" fill="#000"><tspan x="1693.1" font-size="22.4" font-family="'Liberation Serif','DejaVu Serif',serif" font-style="italic">ϑ</tspan><tspan x="1706.4">=1.0</tspan></text>
<path d="M1616.8 99.5h71" stroke="#000000" stroke-width="3.5" fill="none"/>
<text y="108.4" font-size="21.4" fill="#000"><tspan x="1693.1" font-size="22.4" font-family="'Liberation Serif','DejaVu Serif',serif" font-style="italic">ϑ</tspan><tspan x="1706.4">=0.98</tspan></text>
<path d="M1616.8 128.4h71" stroke="#0000ff" stroke-width="3.5" fill="none"/>
<text y="137.3" font-size="21.4" fill="#000"><tspan x="1693.1" font-size="22.4" font-family="'Liberation Serif','DejaVu Serif',serif" font-style="italic">ϑ</tspan><tspan x="1706.4">=0.96</tspan></text>
<path d="M1616.8 157.3h71" stroke="#00ff00" stroke-width="3.5" fill="none"/>
<text y="166.2" font-size="21.4" fill="#000"><tspan x="1693.1" font-size="22.4" font-family="'Liberation Serif','DejaVu Serif',serif" font-style="italic">ϑ</tspan><tspan x="1706.4">=0.94</tspan></text>
</svg>
</body></html>
